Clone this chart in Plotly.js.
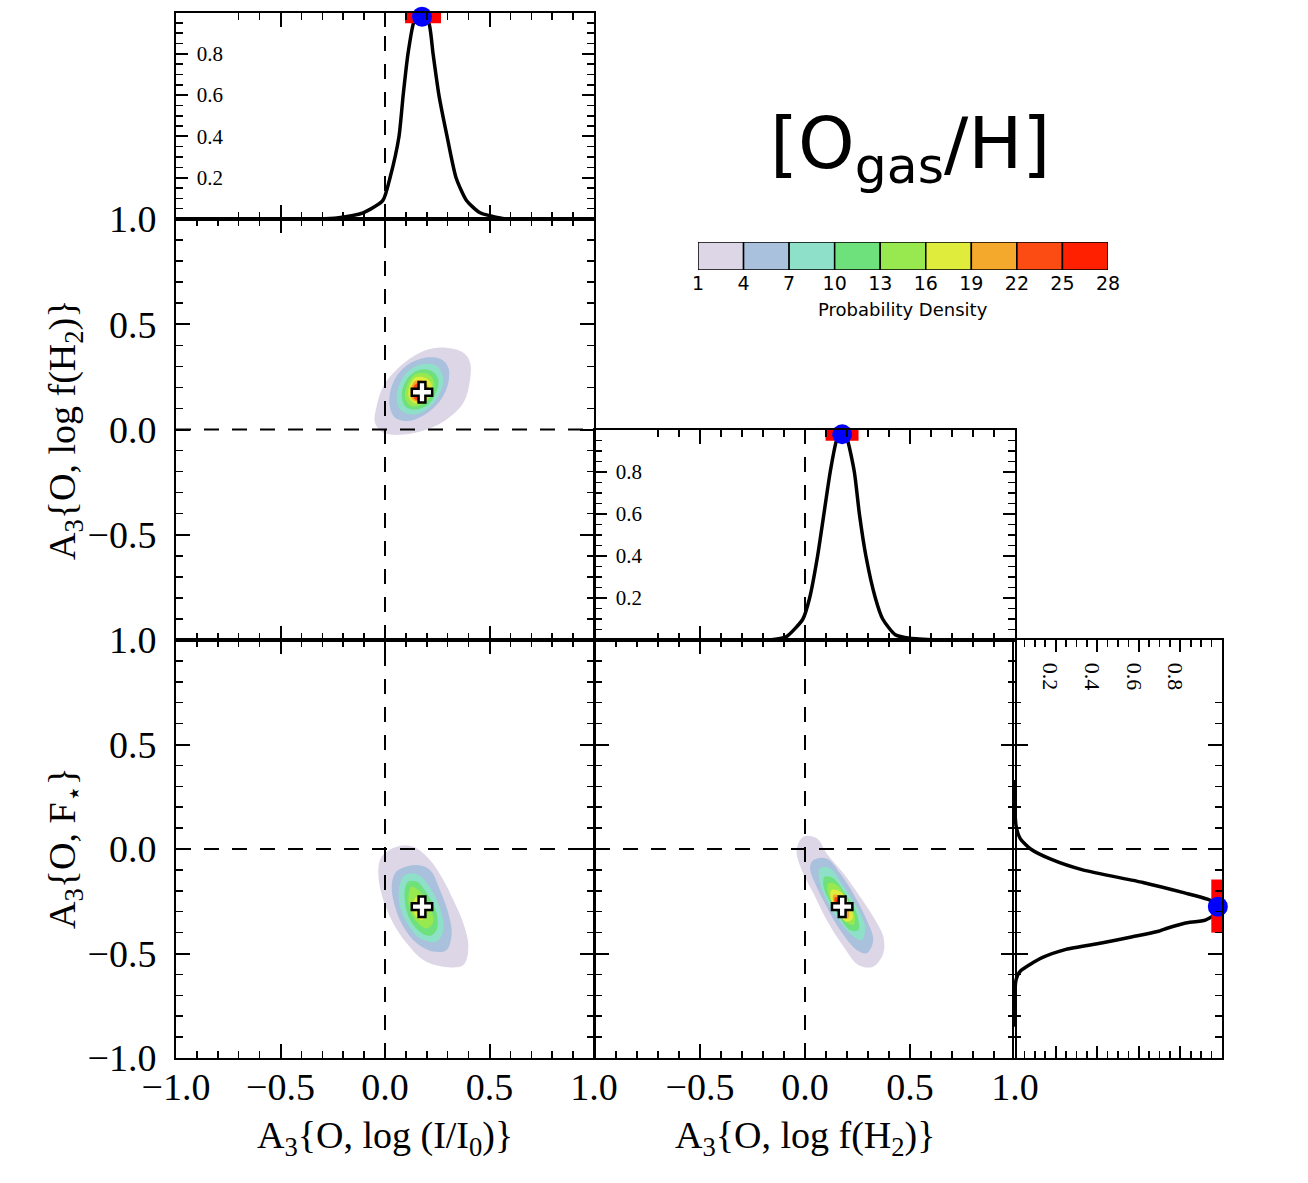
<!DOCTYPE html>
<html><head><meta charset="utf-8">
<script src="https://cdn.plot.ly/plotly-3.0.1.min.js"></script>
<style>html,body{margin:0;padding:0;background:#fff}#chart{width:1308px;height:1183px}</style>
</head><body><div id="chart"></div>
<script>
// ---------- data ----------
// 1D marginal posteriors (normalised)
const ihX   = [-0.32, -0.23, -0.105, -0.01, 0.024, 0.067, 0.087, 0.11, 0.14, 0.175, 0.21, 0.23, 0.258, 0.297, 0.34, 0.39, 0.455, 0.574];
const ihP   = [0, 0.005, 0.03, 0.09, 0.20, 0.40, 0.60, 0.80, 0.96, 1.0, 0.95, 0.80, 0.60, 0.40, 0.20, 0.09, 0.03, 0];
const fh2X  = [-0.17, -0.09, -0.01, 0.022, 0.06, 0.09, 0.12, 0.15, 0.177, 0.20, 0.235, 0.259, 0.29, 0.335, 0.37, 0.43, 0.50, 0.63];
const fh2P  = [0, 0.015, 0.10, 0.20, 0.40, 0.60, 0.80, 0.95, 1.0, 0.96, 0.80, 0.60, 0.40, 0.20, 0.10, 0.025, 0.008, 0];
const fstY  = [0.33, 0.11, 0.05, 0.0, -0.05, -0.10, -0.16, -0.21, -0.24, -0.275, -0.31, -0.34, -0.355, -0.378, -0.395, -0.42, -0.45, -0.48, -0.52, -0.585, -0.625, -0.85];
const fstP  = [0, 0.01, 0.03, 0.08, 0.18, 0.33, 0.62, 0.82, 0.93, 1.0, 0.97, 0.92, 0.82, 0.74, 0.69, 0.57, 0.42, 0.25, 0.135, 0.03, 0.01, 0];

// best values and credible intervals
const peakIH = 0.177, peakFH2 = 0.177, peakFst = -0.276;
const ciIH  = [0.096, 0.268];
const ciFH2 = [0.098, 0.255];
const ciFst = [-0.146, -0.40];
const peakLevel = 0.975;
const refValue = 0;

// probability-density levels
const levelEdges  = [1, 4, 7, 10, 13, 16, 19, 22, 25, 28];
const levelColors = ['#ddd6e6', '#a9c1dc', '#8fe0c8', '#6ee07c', '#98e850', '#e0ec3c', '#f4a82c', '#fc4c14', '#ff2000'];

// 2D contours: log(I/I0) vs log f(H2)
const bX = [
 [0.375, 0.263, 0.167, 0.072, -0.008, -0.040, -0.048, -0.008, 0.088, 0.20, 0.295, 0.375, 0.407, 0.407],
 [0.271, 0.191, 0.112, 0.056, 0.024, 0.024, 0.048, 0.112, 0.191, 0.263, 0.303, 0.303],
 [0.247, 0.175, 0.112, 0.072, 0.056, 0.072, 0.128, 0.20, 0.255, 0.279],
 [0.223, 0.159, 0.104, 0.080, 0.096, 0.144, 0.207, 0.247, 0.255],
 [0.207, 0.144, 0.104, 0.096, 0.128, 0.191, 0.231, 0.234],
 [0.191, 0.144, 0.115, 0.115, 0.144, 0.191, 0.220, 0.220],
 [0.183, 0.144, 0.124, 0.128, 0.159, 0.20, 0.211],
 [0.175, 0.144, 0.131, 0.144, 0.183, 0.20],
 [0.159, 0.140, 0.163, 0.191, 0.183]
];
const bY = [
 [0.365, 0.389, 0.365, 0.30, 0.206, 0.111, 0.032, -0.016, -0.024, 0.0, 0.048, 0.127, 0.238, 0.318],
 [0.333, 0.341, 0.31, 0.254, 0.175, 0.103, 0.056, 0.040, 0.071, 0.135, 0.222, 0.294],
 [0.302, 0.31, 0.278, 0.222, 0.151, 0.095, 0.071, 0.095, 0.159, 0.238],
 [0.278, 0.282, 0.238, 0.167, 0.111, 0.095, 0.119, 0.182, 0.238],
 [0.262, 0.262, 0.206, 0.151, 0.111, 0.127, 0.182, 0.230],
 [0.246, 0.246, 0.198, 0.151, 0.124, 0.135, 0.182, 0.222],
 [0.230, 0.230, 0.190, 0.146, 0.130, 0.146, 0.190],
 [0.219, 0.214, 0.175, 0.143, 0.140, 0.178],
 [0.198, 0.167, 0.143, 0.167, 0.194]
];
// 2D contours: log(I/I0) vs F*
const cX = [
 [0.056, 0.136, 0.215, 0.279, 0.327, 0.375, 0.399, 0.375, 0.279, 0.183, 0.104, 0.040, -0.008, -0.032, -0.016],
 [0.080, 0.152, 0.215, 0.263, 0.303, 0.319, 0.295, 0.231, 0.152, 0.088, 0.048, 0.032, 0.048],
 [0.096, 0.159, 0.223, 0.271, 0.279, 0.247, 0.167, 0.112, 0.072, 0.069],
 [0.112, 0.152, 0.20, 0.247, 0.247, 0.215, 0.167, 0.120, 0.096, 0.096],
 [0.128, 0.167, 0.215, 0.231, 0.20, 0.152, 0.120, 0.112],
 [0.152, 0.183, 0.20, 0.175, 0.144, 0.133]
];
const cY = [
 [0.011, 0.011, -0.053, -0.148, -0.244, -0.356, -0.467, -0.555, -0.563, -0.531, -0.451, -0.356, -0.244, -0.116, -0.037],
 [-0.092, -0.077, -0.100, -0.196, -0.308, -0.403, -0.483, -0.491, -0.451, -0.372, -0.276, -0.180, -0.116],
 [-0.124, -0.124, -0.196, -0.308, -0.388, -0.443, -0.427, -0.364, -0.276, -0.180],
 [-0.156, -0.156, -0.212, -0.308, -0.388, -0.416, -0.396, -0.340, -0.260, -0.188],
 [-0.180, -0.204, -0.276, -0.348, -0.380, -0.348, -0.292, -0.228],
 [-0.228, -0.244, -0.300, -0.340, -0.316, -0.268]
];
// 2D contours: log f(H2) vs F*
const eX = [
 [-0.008, 0.056, 0.103, 0.183, 0.262, 0.325, 0.373, 0.373, 0.325, 0.254, 0.183, 0.103, 0.040, -0.016, -0.040],
 [0.040, 0.103, 0.167, 0.238, 0.294, 0.325, 0.294, 0.246, 0.167, 0.103, 0.048, 0.024],
 [0.071, 0.119, 0.183, 0.246, 0.286, 0.270, 0.222, 0.151, 0.095, 0.068],
 [0.095, 0.135, 0.190, 0.246, 0.254, 0.214, 0.159, 0.111, 0.087],
 [0.111, 0.151, 0.198, 0.238, 0.230, 0.183, 0.135, 0.108],
 [0.127, 0.167, 0.214, 0.227, 0.198, 0.151, 0.122],
 [0.135, 0.175, 0.206, 0.206, 0.175, 0.143],
 [0.143, 0.175, 0.198, 0.190, 0.163, 0.143],
 [0.151, 0.175, 0.183, 0.167, 0.151]
];
const eY = [
 [0.059, 0.051, -0.021, -0.116, -0.228, -0.324, -0.420, -0.499, -0.563, -0.555, -0.467, -0.340, -0.212, -0.100, -0.005],
 [-0.053, -0.045, -0.116, -0.228, -0.340, -0.435, -0.499, -0.483, -0.388, -0.276, -0.164, -0.092],
 [-0.092, -0.092, -0.180, -0.276, -0.372, -0.435, -0.411, -0.324, -0.228, -0.148],
 [-0.132, -0.140, -0.212, -0.308, -0.388, -0.388, -0.316, -0.236, -0.172],
 [-0.164, -0.172, -0.236, -0.324, -0.364, -0.340, -0.268, -0.204],
 [-0.196, -0.204, -0.268, -0.332, -0.348, -0.292, -0.236],
 [-0.220, -0.228, -0.284, -0.332, -0.324, -0.276],
 [-0.231, -0.244, -0.292, -0.324, -0.308, -0.268],
 [-0.244, -0.260, -0.300, -0.316, -0.284]
];

// tick labels
const bigTicks    = [-1, -0.5, 0, 0.5, 1];
const bigLabels   = ['\u22121.0', '\u22120.5', '0.0', '0.5', '1.0'];
const probTicks   = [0.2, 0.4, 0.6, 0.8];
const probLabels  = ['0.2', '0.4', '0.6', '0.8'];

// ---------- figure ----------
const W = 1308, H = 1183;
const fx = (a, b) => [a / W, b / W];
const fy = (top, bot) => [1 - bot / H, 1 - top / H];
const SERIF = 'Liberation Serif, Times New Roman, serif';
const SANS = 'DejaVu Sans, sans-serif';

function ax(extra, minorDtick) {
  return Object.assign({
    showline: true, linecolor: 'black', linewidth: 2, mirror: 'ticks',
    ticks: 'inside', ticklen: 14, tickwidth: 2, tickcolor: 'black',
    showgrid: false, zeroline: false, fixedrange: true,
    tickfont: {family: SERIF, size: 38, color: 'black'},
    minor: {ticks: 'inside', ticklen: 7, tickwidth: 1.5, tickcolor: 'black', showgrid: false, dtick: minorDtick, tick0: 0}
  }, extra);
}
const bigAxis = (dom, anchor, labels, tv, tt, standoff) => ax({domain: dom, anchor: anchor, range: [-1, 1], tickmode: 'array',
  tickvals: tv || bigTicks, ticktext: tt || bigLabels, showticklabels: labels,
  ticklabelstandoff: standoff === undefined ? 6 : standoff}, 0.1);
const probAxis = (dom, anchor) => ax({domain: dom, anchor: anchor, range: [0, 1], tickmode: 'array',
  tickvals: probTicks, ticktext: probLabels, ticklen: 12, ticklabelposition: 'inside',
  tickfont: {family: SERIF, size: 21, color: 'black'}, ticklabelstandoff: 10}, 0.05);

const colX = fx(176, 594), colX2 = fx(595, 1015), colX3 = fx(1014, 1222);
const rowA = fy(12.5, 219), rowB = fy(219, 640), rowC = fy(640, 1058), rowD = fy(430, 640);

const layout = {
  width: W, height: H, margin: {l: 0, r: 0, t: 0, b: 0},
  paper_bgcolor: 'white', plot_bgcolor: 'rgba(0,0,0,0)', showlegend: false,
  font: {family: SERIF, color: 'black'},
  xaxis:  bigAxis(colX, 'y', false),
  yaxis:  probAxis(rowA, 'x'),
  xaxis2: bigAxis(colX, 'y2', false),
  yaxis2: bigAxis(rowB, 'x2', true, bigTicks.slice(1), bigLabels.slice(1), 10),
  xaxis3: bigAxis(colX, 'y3', true, null, null, -6),
  yaxis3: bigAxis(rowC, 'x3', true, null, null, 10),
  xaxis4: bigAxis(colX2, 'y4', false),
  yaxis4: probAxis(rowD, 'x4'),
  xaxis5: bigAxis(colX2, 'y5', true, bigTicks.slice(1), bigLabels.slice(1), -6),
  yaxis5: bigAxis(rowC, 'x5', false),
  xaxis6: Object.assign(probAxis(colX3, 'y6'), {side: 'top', tickangle: 90, ticklabelstandoff: 0, ticklabelshift: -5,
           tickfont: {family: SERIF, size: 22, color: 'black'}}),
  yaxis6: bigAxis(rowC, 'x6', false),
  xaxis7: {domain: fx(698, 1108), anchor: 'y7', range: [levelEdges[0], levelEdges[levelEdges.length - 1]],
           tickmode: 'array', tickvals: levelEdges, ticks: '', showline: false, showgrid: false, zeroline: false,
           tickfont: {family: SANS, size: 19, color: 'black'}, fixedrange: true},
  yaxis7: {domain: fy(242, 270), anchor: 'x7', range: [0, 1], visible: false, fixedrange: true},
  shapes: [], annotations: []
};

const dash = {color: 'black', width: 2, dash: '15px,13px'};
function vref(xa, ya) { layout.shapes.push({type: 'line', xref: xa, yref: ya + ' domain', x0: refValue, x1: refValue, y0: 0, y1: 1, line: dash}); }
function href(xa, ya) { layout.shapes.push({type: 'line', xref: xa + ' domain', yref: ya, x0: 0, x1: 1, y0: refValue, y1: refValue, line: dash}); }
vref('x', 'y'); vref('x2', 'y2'); href('x2', 'y2'); vref('x3', 'y3'); href('x3', 'y3');
vref('x4', 'y4'); vref('x5', 'y5'); href('x5', 'y5'); href('x6', 'y6');

const traces = [];
function contours(xs, ys, xa, ya) {
  xs.forEach((px, i) => {
    traces.push({type: 'scatter', mode: 'lines', x: px.concat([px[0]]), y: ys[i].concat([ys[i][0]]), xaxis: xa, yaxis: ya,
      fill: 'toself', fillcolor: levelColors[i], line: {width: 0, color: levelColors[i], shape: 'spline', smoothing: 1}, hoverinfo: 'skip'});
  });
}
contours(bX, bY, 'x2', 'y2');
contours(cX, cY, 'x3', 'y3');
contours(eX, eY, 'x5', 'y5');

function cross(x, y, xa, ya) {
  traces.push({type: 'scatter', mode: 'markers', x: [x], y: [y], xaxis: xa, yaxis: ya,
    marker: {symbol: 'cross', size: 17, color: 'white', line: {color: 'black', width: 2.5}}});
}
cross(peakIH, peakFH2, 'x2', 'y2');
cross(peakIH, peakFst, 'x3', 'y3');
cross(peakFH2, peakFst, 'x5', 'y5');

const curveLine = {color: 'black', width: 3.5, shape: 'spline', smoothing: 0.6};
traces.push({type: 'scatter', mode: 'lines', x: ihX, y: ihP, xaxis: 'x', yaxis: 'y', line: curveLine});
traces.push({type: 'scatter', mode: 'lines', x: fh2X, y: fh2P, xaxis: 'x4', yaxis: 'y4', line: curveLine});
traces.push({type: 'scatter', mode: 'lines', x: fstP, y: fstY, xaxis: 'x6', yaxis: 'y6', line: curveLine});

// credible interval bars + best value dots
const ciLine = {color: '#ff0000', width: 11};
traces.push({type: 'scatter', mode: 'lines', x: ciIH, y: [peakLevel, peakLevel], xaxis: 'x', yaxis: 'y', line: ciLine, cliponaxis: false});
traces.push({type: 'scatter', mode: 'lines', x: ciFH2, y: [peakLevel, peakLevel], xaxis: 'x4', yaxis: 'y4', line: ciLine, cliponaxis: false});
traces.push({type: 'scatter', mode: 'lines', x: [peakLevel, peakLevel], y: ciFst, xaxis: 'x6', yaxis: 'y6', line: ciLine, cliponaxis: false});
const dot = {symbol: 'circle', size: 20, color: '#0000ff'};
traces.push({type: 'scatter', mode: 'markers', x: [peakIH], y: [0.98], xaxis: 'x', yaxis: 'y', marker: dot, cliponaxis: false});
traces.push({type: 'scatter', mode: 'markers', x: [peakFH2], y: [0.98], xaxis: 'x4', yaxis: 'y4', marker: dot, cliponaxis: false});
traces.push({type: 'scatter', mode: 'markers', x: [0.98], y: [peakFst], xaxis: 'x6', yaxis: 'y6', marker: dot, cliponaxis: false});

// colour bar as bars
const binCenters = levelEdges.slice(0, -1).map((e, i) => (e + levelEdges[i + 1]) / 2);
const binWidths = levelEdges.slice(0, -1).map((e, i) => levelEdges[i + 1] - e);
traces.push({type: 'bar', x: binCenters, y: binCenters.map(() => 1), width: binWidths, base: 0,
  xaxis: 'x7', yaxis: 'y7', marker: {color: levelColors, line: {color: 'black', width: 1.5}}, hoverinfo: 'skip'});

layout.annotations.push(
  {text: '[O<sub>gas</sub>/H]', xref: 'paper', yref: 'paper', x: 910 / W, y: 1 - 148 / H, showarrow: false,
   xanchor: 'center', yanchor: 'middle', font: {family: SANS, size: 72, color: 'black'}},
  {text: 'Probability Density', xref: 'paper', yref: 'paper', x: 903 / W, y: 1 - 309 / H, showarrow: false,
   xanchor: 'center', yanchor: 'middle', font: {family: SANS, size: 18, color: 'black'}},
  {text: 'A<sub>3</sub>{O, log (I/I<sub>0</sub>)}', xref: 'paper', yref: 'paper', x: 385 / W, y: 1 - 1138 / H, showarrow: false,
   xanchor: 'center', yanchor: 'middle', font: {family: SERIF, size: 38, color: 'black'}},
  {text: 'A<sub>3</sub>{O, log f(H<sub>2</sub>)}', xref: 'paper', yref: 'paper', x: 805 / W, y: 1 - 1138 / H, showarrow: false,
   xanchor: 'center', yanchor: 'middle', font: {family: SERIF, size: 38, color: 'black'}},
  {text: 'A<sub>3</sub>{O, log f(H<sub>2</sub>)}', xref: 'paper', yref: 'paper', x: 65 / W, y: 1 - 430 / H, showarrow: false,
   textangle: -90, xanchor: 'center', yanchor: 'middle', font: {family: SERIF, size: 38, color: 'black'}},
  {text: 'A<sub>3</sub>{O, F<sub>\u22c6</sub>}', xref: 'paper', yref: 'paper', x: 65 / W, y: 1 - 848 / H, showarrow: false,
   textangle: -90, xanchor: 'center', yanchor: 'middle', font: {family: SERIF, size: 38, color: 'black'}}
);

Plotly.newPlot('chart', traces, layout, {displayModeBar: false, staticPlot: true});
</script></body></html>
